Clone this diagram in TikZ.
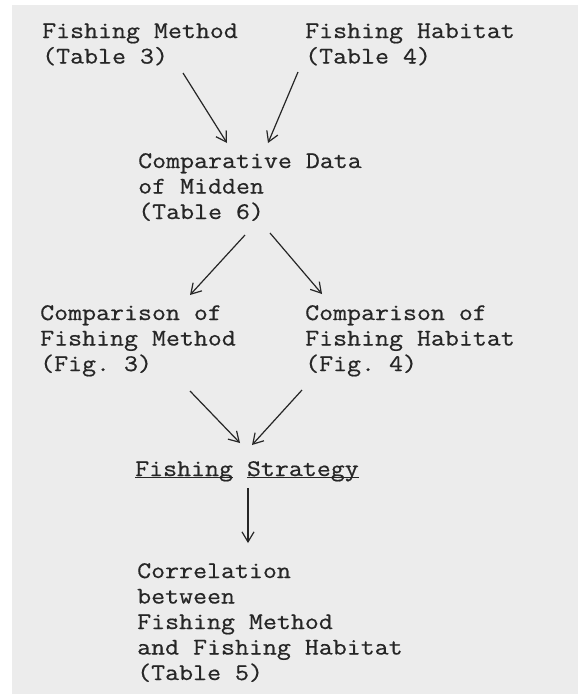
\documentclass[tikz,border=0pt]{standalone}
\usepackage{fontspec}
\setmonofont[FakeStretch=1.14,FakeBold=0.6]{Latin Modern Mono}
\usetikzlibrary{arrows.meta}
\definecolor{paper}{gray}{0.925}
\definecolor{ink}{gray}{0.15}
% underline one word, not the space after it
\newcommand{\wordline}[1]{\setbox0\hbox{#1}\rlap{\rule[-2pt]{\wd0}{1pt}}\box0\relax}

\begin{document}
\begin{tikzpicture}[x=1pt, y=-1pt,
		label/.style={anchor=base west, inner sep=0pt, align=left, text=ink,
			font=\ttfamily\fontsize{23.8}{25.5}\selectfont},
		arrow/.style={draw=ink, line width=1.2pt, -{Straight Barb[length=10pt,width=12pt]}}]
	\useasboundingbox (0,0) rectangle (578,694);
	\fill[white] (0,0) rectangle (578,694);
	\fill[paper] (12,5) rectangle (578,694);

	% Sources (placed by the baseline of the last line)
	\node[label] (method) at (42,63.5) {Fishing Method\\(Table 3)};
	\node[label] (habitat) at (305,63.5) {Fishing Habitat\\(Table 4)};

	% Midden data
	\node[label] (midden) at (138,219) {Comparative Data\\of Midden\\(Table 6)};

	% Comparisons
	\node[label] (cmpmethod) at (40,371) {Comparison of\\Fishing Method\\(Fig. 3)};
	\node[label] (cmphabitat) at (305,371) {Comparison of\\Fishing Habitat\\(Fig. 4)};

	% Strategy and result
	\node[label] (strategy) at (135,476) {\wordline{Fishing} \wordline{Strategy}};
	\node[label] (correlation) at (137,680) {Correlation\\between\\Fishing Method\\and Fishing Habitat\\(Table 5)};

	% Connections
	\draw[arrow] ([shift={(141,9.5)}]method.base west) -- ([shift={(89,-76)}]midden.base west);
	\draw[arrow] ([shift={(-7,8.5)}]habitat.base west) -- ([shift={(130,-76)}]midden.base west);
	\draw[arrow] ([shift={(107,16)}]midden.base west) -- ([shift={(150,-76)}]cmpmethod.base west);
	\draw[arrow] ([shift={(132,14)}]midden.base west) -- ([shift={(17,-77)}]cmphabitat.base west);
	\draw[arrow] ([shift={(150,20)}]cmpmethod.base west) -- ([shift={(105,-33)}]strategy.base west);
	\draw[arrow] ([shift={(-3,19)}]cmphabitat.base west) -- ([shift={(117,-31)}]strategy.base west);
	\draw[arrow] ([shift={(113,12)}]strategy.base west) -- ([shift={(111,-137)}]correlation.base west);

\end{tikzpicture}
\end{document}
